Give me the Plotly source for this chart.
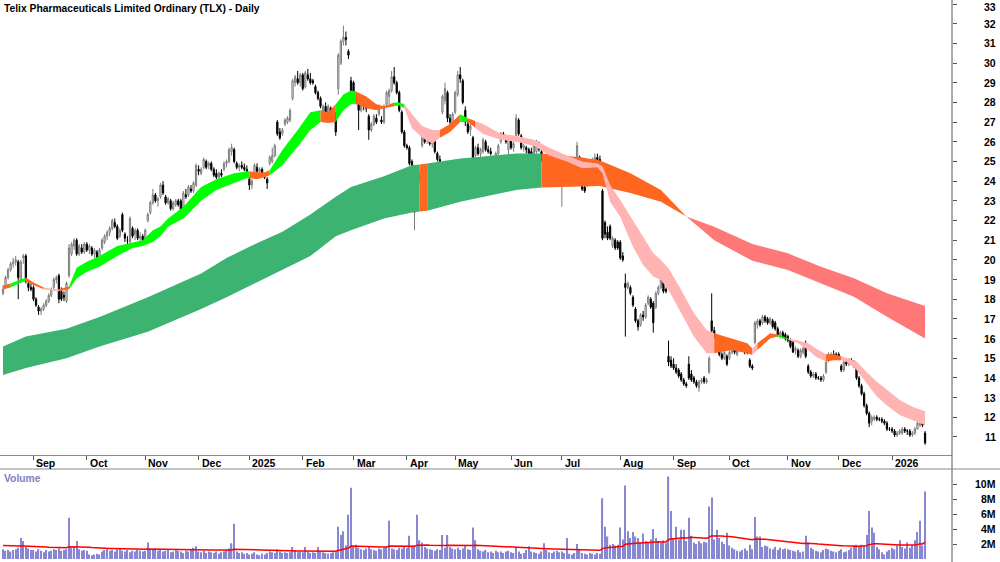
import plotly.graph_objects as go
import pandas as pd

# ---------------- trading calendar (ASX) ----------------
holidays = pd.to_datetime(["2024-12-25", "2024-12-26", "2025-01-01", "2025-01-27", "2025-04-18",
                           "2025-04-21", "2025-04-25", "2025-06-09", "2025-12-25", "2025-12-26",
                           "2026-01-01"])
dates = [d for d in pd.bdate_range("2024-08-15", "2026-01-21") if d not in holidays]

# ---------------- daily OHLC ----------------
opens = [
    18.3,18.6,19.1,19.5,19.8,19.9,19.9,18.9,20.1,20.2,18.8,18.6,
    18.6,18.0,17.6,17.4,17.5,17.7,17.9,18.2,18.6,19.0,19.2,18.4,18.2,17.9,19.2,20.3,20.7,21.0,20.3,20.6,20.4,
    20.8,20.5,20.6,20.3,20.4,20.1,20.6,20.9,21.2,21.4,21.6,21.9,21.7,21.2,22.3,21.3,21.0,20.9,21.6,21.3,21.5,21.1,21.2,
    21.0,22.0,22.4,22.9,23.3,23.0,23.2,23.8,23.2,22.9,23.0,22.6,22.8,23.0,23.0,22.5,23.3,23.3,23.6,23.5,23.8,
    24.6,24.4,24.7,25.0,24.8,24.9,24.6,24.4,24.2,24.4,24.6,24.9,25.0,25.5,25.6,24.9,24.7,24.8,24.7,24.6,
    24.1,23.8,24.5,24.7,24.5,24.6,24.3,24.1,24.9,25.0,25.3,27.0,26.5,26.4,26.9,27.0,27.1,28.2,29.0,29.2,29.0,
    29.4,28.8,29.4,29.2,29.1,28.8,28.5,28.2,27.5,27.8,27.4,27.7,27.2,27.4,28.7,30.0,31.1,31.3,30.6,29.1,
    29.0,28.3,28.0,27.6,28.0,27.8,27.3,26.6,26.9,27.2,27.4,27.1,27.0,27.9,28.3,28.6,29.3,29.0,28.5,27.5,26.5,
    25.8,25.7,25.0,22.4,23.6,24.2,25.8,26.4,26.1,26.3,25.9,26.1,25.4,25.1,27.5,28.1,28.5,27.2,26.9,
    27.5,28.4,29.4,29.1,27.6,26.9,26.6,26.2,25.3,25.7,25.4,25.5,26.0,25.6,25.5,24.8,25.2,25.4,26.0,26.4,26.2,25.6,
    26.2,25.7,26.3,27.1,26.3,25.7,25.7,25.6,25.5,25.4,25.5,25.9,25.5,25.0,24.7,24.7,24.3,24.6,25.2,24.4,
    24.3,24.5,24.3,24.0,23.9,24.0,24.0,25.2,24.0,23.7,23.8,24.2,24.5,25.0,25.2,25.1,23.5,21.9,21.4,21.7,20.7,21.0,20.9,
    20.9,20.2,18.8,18.6,18.6,18.1,17.5,16.9,16.7,17.2,17.1,17.8,18.0,17.8,17.6,18.3,18.6,18.9,18.5,15.1,14.9,
    14.7,14.5,14.4,14.2,13.9,13.7,14.7,14.2,14.0,13.8,13.5,13.8,14.0,13.8,14.3,16.9,16.4,16.1,15.4,15.2,15.0,15.1,
    15.0,15.3,15.4,15.2,15.4,15.5,15.6,15.6,14.9,14.6,15.8,16.7,16.9,16.8,17.1,17.0,16.8,16.9,16.8,16.5,16.2,16.3,16.2,
    16.1,15.9,15.8,15.4,15.4,15.1,15.3,15.7,14.6,14.3,14.1,14.2,14.0,14.0,13.9,14.3,14.9,15.1,15.2,15.2,
    15.2,14.6,14.4,14.8,14.7,14.9,14.8,14.5,14.0,13.6,13.2,12.6,12.2,11.8,11.9,12.0,11.9,11.9,11.8,11.7,11.4,
    11.4,11.3,11.1,11.2,11.2,11.4,11.3,11.3,11.1,11.2,11.4,11.6,11.9,11.2,
]
highs = [
    18.7,19.2,19.6,19.9,20.1,20.2,20.0,20.0,20.3,20.3,18.9,18.8,
    18.7,18.1,17.7,17.6,17.8,18.0,18.3,18.6,19.1,19.2,19.3,18.6,18.4,18.9,20.8,20.9,21.1,21.1,20.8,20.8,20.9,
    20.9,20.8,20.7,20.6,20.5,20.6,21.1,21.3,21.5,21.7,22.1,22.1,21.8,21.6,22.4,21.4,21.2,22.2,21.7,21.6,21.6,21.4,21.3,
    21.6,22.4,23.0,23.6,23.4,23.2,23.9,24.0,23.3,23.2,23.1,23.0,23.1,23.1,23.1,23.5,23.6,23.8,23.8,24.0,24.9,
    24.8,24.7,25.2,25.1,25.0,25.0,24.7,24.6,24.5,24.6,25.0,25.1,25.7,25.9,25.7,25.0,24.9,25.0,24.9,24.8,
    24.2,24.1,24.9,24.9,24.7,24.7,24.4,24.2,25.3,25.7,25.9,27.1,26.7,26.7,27.2,27.3,27.7,29.2,29.4,29.6,29.5,
    29.5,29.6,29.7,29.5,29.2,28.9,28.6,28.3,27.9,28.0,27.9,27.8,27.6,27.5,30.5,31.2,31.9,31.6,30.7,29.3,
    29.1,28.5,28.3,28.1,28.1,28.0,27.4,27.0,27.4,27.4,27.9,27.3,27.9,28.6,28.7,29.6,29.8,29.1,28.6,27.6,26.6,
    25.9,25.8,25.1,23.2,24.6,24.5,26.7,26.7,26.6,26.5,26.3,26.2,25.5,25.3,28.4,29.0,28.6,27.4,27.5,
    28.6,29.6,29.8,29.2,27.8,27.1,26.9,26.3,25.8,25.9,25.7,26.2,26.1,25.8,25.7,25.3,25.5,25.9,26.5,26.5,26.3,26.3,
    26.3,26.0,27.4,27.2,26.4,25.9,25.8,25.7,25.7,25.9,26.1,26.0,25.6,25.1,24.9,24.8,24.7,24.8,25.3,24.6,
    24.7,24.6,24.4,24.2,24.2,24.2,26.0,25.3,24.1,23.9,24.2,24.6,25.2,25.4,25.4,25.3,23.6,22.0,21.7,21.8,21.2,21.1,21.0,
    21.0,20.4,19.3,18.9,18.7,18.2,17.6,17.0,17.3,17.4,17.8,18.2,18.1,17.9,18.4,18.7,19.1,19.0,18.6,15.9,15.1,
    15.0,14.7,14.5,14.3,14.0,13.8,15.1,14.4,14.1,13.9,13.9,14.0,14.1,14.0,15.1,18.3,16.6,16.2,15.5,15.3,15.4,15.2,
    15.4,15.6,15.6,15.6,15.7,15.7,15.7,15.7,15.0,14.7,16.9,17.0,17.0,17.2,17.2,17.1,17.1,17.0,16.9,16.6,16.4,16.4,16.3,
    16.2,16.0,15.9,15.6,15.5,15.5,15.6,15.9,14.7,14.4,14.3,14.3,14.1,14.1,14.2,14.9,15.3,15.3,15.4,15.3,
    15.3,14.7,14.9,15.0,15.0,15.0,14.9,14.6,14.1,13.7,13.3,12.7,12.3,12.1,12.1,12.1,12.0,12.0,11.9,11.8,11.5,
    11.5,11.4,11.3,11.4,11.5,11.5,11.4,11.4,11.3,11.5,11.8,11.9,12.0,11.3,
]
lows = [
    18.2,18.5,19.0,19.4,19.6,19.7,18.0,18.8,19.8,18.8,18.4,18.4,
    17.9,17.6,17.2,17.2,17.4,17.6,17.8,18.1,18.5,18.8,17.8,17.9,17.9,17.8,19.1,20.2,20.5,20.2,20.2,20.3,20.3,
    20.4,20.3,20.2,20.1,19.9,20.0,20.5,20.8,21.0,21.2,21.5,21.6,21.0,21.1,21.4,20.9,20.7,20.8,21.1,21.0,21.0,20.9,20.9,
    20.9,21.9,22.3,22.8,22.9,22.7,23.1,23.3,22.8,22.8,22.5,22.5,22.7,22.7,22.1,22.4,23.1,23.2,23.4,23.4,23.7,
    24.3,24.3,24.6,24.6,24.6,24.5,24.2,24.1,24.0,24.2,24.5,24.7,24.9,25.3,24.9,24.6,24.5,24.6,24.5,24.4,
    23.55,23.6,24.4,24.4,24.3,24.2,24.1,23.6,24.8,24.9,25.2,26.3,26.1,26.3,26.8,26.9,27.0,28.1,28.8,28.9,28.8,
    28.6,28.7,29.1,28.9,28.9,28.4,28.1,27.7,27.3,27.3,27.2,27.1,27.0,26.3,28.4,29.9,30.9,30.9,30.2,28.4,
    28.0,27.9,26.6,27.5,27.6,27.5,26.1,26.5,26.8,26.9,27.3,26.9,26.9,27.8,27.9,28.5,28.9,28.4,27.5,26.4,25.7,
    25.6,24.8,23.6,21.5,23.5,23.9,25.7,25.9,25.9,25.8,25.7,25.4,25.0,24.9,27.4,27.9,27.0,26.8,26.7,
    27.4,28.3,29.0,27.9,26.8,26.4,26.3,24.2,25.2,25.3,25.2,25.4,25.5,25.4,25.3,24.7,25.1,25.3,25.9,26.1,25.9,25.1,
    25.6,25.5,26.2,26.3,25.6,25.5,25.4,25.3,24.4,25.3,25.4,25.5,25.0,24.6,24.5,24.1,24.2,24.4,24.1,24.2,
    22.7,24.1,23.9,23.8,23.8,23.9,23.9,24.0,23.5,23.4,23.7,24.1,24.4,24.9,25.0,24.9,21.0,21.1,21.0,21.0,20.6,20.5,20.5,
    20.0,19.9,16.1,18.5,18.2,17.6,16.8,16.4,16.6,16.9,17.0,17.7,17.5,16.3,17.5,18.2,18.5,18.3,18.3,14.6,14.5,
    14.4,14.2,14.0,13.8,13.6,13.5,13.9,13.8,13.7,13.5,13.3,13.7,13.7,13.7,14.2,16.3,16.0,15.5,15.1,14.9,14.9,14.6,
    14.9,15.2,15.2,15.1,15.3,15.4,15.2,15.2,14.5,14.4,15.7,16.5,16.6,16.7,16.8,16.7,16.7,16.5,16.4,16.1,16.0,16.0,15.9,
    15.8,15.5,15.3,15.2,15.0,15.0,15.2,15.0,14.2,14.0,14.0,13.9,13.9,13.8,13.8,14.2,14.8,15.0,15.0,15.0,
    14.9,14.3,14.3,14.6,14.6,14.7,14.5,13.9,13.5,13.1,12.5,12.1,11.5,11.6,11.8,11.8,11.8,11.7,11.6,11.3,11.3,
    11.2,11.0,11.0,11.1,11.1,11.2,11.1,11.0,11.0,11.1,11.4,11.5,11.5,10.6,
]
closes = [
    18.5,19.1,19.5,19.8,19.9,20.0,19.1,19.9,20.2,18.9,18.6,18.5,
    18.0,17.7,17.4,17.5,17.7,17.9,18.2,18.5,19.0,19.1,18.0,18.0,18.1,18.8,20.6,20.8,21.0,20.3,20.7,20.4,20.8,
    20.5,20.7,20.3,20.5,20.1,20.5,21.0,21.2,21.4,21.6,22.0,21.7,21.1,21.5,21.5,21.1,21.0,22.1,21.2,21.5,21.1,21.2,21.0,
    21.5,22.3,22.9,23.3,23.0,23.1,23.8,23.4,22.9,23.1,22.6,22.9,23.0,22.8,22.3,23.4,23.2,23.7,23.5,23.9,24.8,
    24.5,24.6,25.1,24.7,24.9,24.6,24.3,24.2,24.4,24.3,24.9,25.0,25.6,25.7,25.0,24.7,24.8,24.7,24.6,24.5,
    23.8,24.0,24.8,24.5,24.6,24.3,24.2,23.9,25.2,25.3,25.8,26.4,26.2,26.6,27.1,27.2,27.6,29.1,29.3,29.0,29.4,
    28.7,29.5,29.2,29.0,29.0,28.5,28.2,27.8,27.8,27.4,27.8,27.2,27.5,26.5,30.4,31.1,31.3,31.2,30.4,28.5,
    28.1,28.0,27.6,28.0,27.8,27.7,26.6,26.9,27.3,27.0,27.8,27.0,27.8,28.5,28.6,29.3,29.0,28.5,27.6,26.5,25.8,
    25.7,24.9,23.7,23.1,24.4,24.3,26.5,26.0,26.5,25.9,26.2,25.5,25.1,25.0,28.3,28.7,27.2,27.0,27.4,
    28.5,29.4,29.2,28.0,27.0,26.5,26.8,24.6,25.7,25.4,25.6,26.1,25.6,25.5,25.4,25.2,25.4,25.8,26.4,26.2,26.0,26.2,
    25.7,25.9,27.2,26.4,25.7,25.8,25.6,25.4,24.6,25.8,26.0,25.6,25.1,24.7,24.8,24.2,24.6,24.5,24.3,24.5,
    24.6,24.2,24.0,23.9,24.1,24.1,25.8,24.1,23.6,23.5,24.1,24.5,25.1,25.2,25.1,25.0,21.1,21.3,21.1,21.1,21.1,20.6,20.6,
    20.1,20.0,18.6,18.8,18.3,17.7,16.9,16.6,17.2,17.1,17.7,18.1,17.6,16.8,18.3,18.6,19.0,18.4,18.4,14.8,14.6,
    14.5,14.3,14.1,13.9,13.7,13.6,14.0,13.9,13.8,13.6,13.8,13.9,13.8,13.9,15.0,16.4,16.1,15.6,15.2,15.0,15.3,14.7,
    15.3,15.5,15.3,15.5,15.6,15.6,15.3,15.3,14.6,14.5,16.8,16.9,16.7,17.1,16.9,16.8,17.0,16.6,16.5,16.2,16.3,16.1,16.0,
    15.9,15.6,15.3,15.5,15.1,15.4,15.5,15.1,14.3,14.1,14.2,14.0,14.0,13.9,14.1,14.8,15.2,15.2,15.1,15.1,
    15.0,14.4,14.8,14.7,14.9,14.8,14.6,14.0,13.6,13.2,12.6,12.2,11.7,12.0,12.0,11.9,11.9,11.8,11.7,11.4,11.4,
    11.3,11.1,11.2,11.3,11.4,11.3,11.3,11.1,11.2,11.4,11.7,11.8,11.6,10.7,
]
# daily volume, millions of shares
volume_m = [
    1.3,1.1,1.2,1.0,1.2,1.3,1.5,2.8,2.4,1.6,1.4,1.2,
    1.2,1.0,1.3,1.1,0.9,1.2,1.0,1.1,1.3,1.2,1.4,1.1,1.2,1.3,5.5,1.5,1.6,2.4,1.3,1.1,1.2,
    1.1,0.6,0.5,0.6,0.7,0.6,1.0,1.2,1.3,1.1,1.2,1.0,1.3,1.4,1.1,1.0,1.2,0.9,1.1,1.0,1.2,1.1,1.0,
    1.1,2.2,1.3,1.2,1.4,1.1,1.2,1.0,1.1,1.3,0.9,1.0,1.2,1.1,1.0,0.8,1.1,1.0,1.2,1.5,1.7,
    1.0,0.9,1.1,0.8,1.0,0.9,0.8,1.0,0.7,0.9,1.0,1.2,1.4,2.1,4.7,1.0,0.8,0.9,0.7,0.8,
    0.6,0.7,0.9,0.6,0.5,0.7,0.6,0.8,1.0,0.9,0.8,1.3,1.0,0.8,0.9,0.8,0.9,1.6,1.2,0.9,1.0,
    0.9,1.6,1.0,0.8,0.9,0.8,1.6,1.1,0.9,0.8,0.7,0.8,0.9,1.0,4.3,3.2,3.7,1.8,5.9,9.5,
    1.7,1.9,1.5,1.3,1.2,1.4,1.6,1.3,1.2,1.1,1.4,1.3,1.5,1.6,5.1,1.4,1.3,1.2,1.5,1.4,1.6,
    1.5,3.1,1.6,1.8,5.9,2.5,2.2,1.6,1.4,1.3,1.2,1.1,1.3,1.2,3.2,1.5,3.2,1.6,1.4,
    1.3,1.5,1.2,1.4,1.8,1.3,1.2,4.2,2.5,1.3,1.1,1.0,1.2,0.9,1.0,0.8,1.1,0.9,1.0,0.8,1.0,1.1,
    0.9,0.8,1.6,1.0,0.7,0.8,1.2,1.7,1.0,0.9,0.8,0.7,1.0,2.1,1.2,0.9,0.8,1.0,1.1,0.9,
    1.0,0.8,2.8,0.7,0.6,0.8,2.0,1.2,0.8,0.7,0.6,0.8,0.7,0.6,0.8,0.7,8.1,4.3,3.0,1.9,2.0,1.8,1.9,
    4.2,2.6,9.8,3.7,2.8,3.6,3.0,2.8,2.2,3.4,2.4,2.2,2.6,4.0,2.8,2.3,2.2,2.5,2.1,11.0,6.4,
    2.8,4.3,2.6,3.9,3.9,2.4,5.5,3.1,2.2,2.0,2.4,2.1,2.3,2.2,7.0,8.2,2.6,3.9,2.8,2.3,2.0,3.5,
    1.8,1.5,1.3,1.1,1.0,1.2,1.4,1.1,1.9,1.3,5.6,3.0,3.0,1.6,1.8,1.7,1.4,1.3,1.6,1.2,1.5,1.3,1.4,
    1.3,1.2,1.1,1.0,1.2,0.9,1.0,3.1,2.2,1.5,1.3,1.1,1.0,0.9,1.2,1.4,1.3,1.1,1.0,0.9,
    1.1,1.3,0.9,1.0,1.2,1.5,1.8,1.9,1.7,1.9,1.8,3.2,6.4,4.2,3.5,1.6,1.3,0.9,0.6,1.0,1.2,
    1.5,1.3,1.8,2.5,1.6,1.4,2.2,1.5,1.9,2.5,3.6,5.1,1.8,9.0,
]

short_idx = [0,3,7,9,12,16,20,22,26,29,33,38,45,51,55,59,62,65,71,78,84,91,96,97,100,103,105,110,116,121,
             125,128,131,134,137,139,143,147,150,154,156,158,161,165,169,172,176,180,183,186,189,196,202,209,
             215,222,228,234,236,239,243,248,252,256,259,262,267,272,277,280,287,293,295,297,302,305,309,313,
             317,320,324,327,330,332,336,340,344,348,353,358,363]
short_upper = [18.7,18.8,19.0,19.1,18.85,18.6,18.5,18.5,18.65,19.6,19.9,20.2,20.7,20.9,21.0,21.5,21.7,22.1,22.7,
               23.7,24.1,24.4,24.5,24.5,24.45,24.45,24.55,25.58,26.6,27.5,27.6,27.5,27.9,28.4,28.6,28.55,28.3,
               27.9,27.8,28.0,28.0,27.9,27.4,26.8,26.6,26.6,26.9,27.4,27.2,27.05,26.9,26.4,26.3,26.1,25.7,25.3,
               25.0,24.9,24.75,23.8,23.04,22.0,21.18,20.33,19.99,19.57,18.47,17.28,16.44,16.27,16.0,15.76,15.5,
               15.76,16.27,16.2,16.0,15.9,15.76,15.5,15.2,15.2,15.1,15.0,14.83,14.3,13.8,13.4,12.88,12.54,12.3]
short_lower = [18.5,18.6,18.85,18.9,18.72,18.5,18.42,18.4,18.5,19.05,19.4,19.65,20.2,20.6,20.7,20.9,21.2,21.7,
               22.1,23.0,23.55,23.9,24.15,24.15,24.1,24.2,24.3,24.8,25.75,26.6,27.0,26.95,27.0,27.6,27.9,27.95,
               27.7,27.6,27.7,27.8,27.85,27.7,26.7,26.2,25.9,26.2,26.5,27.0,27.0,26.7,26.4,26.1,26.0,25.8,25.3,
               25.0,24.65,24.7,24.4,22.95,22.19,20.67,19.74,19.15,18.98,18.47,17.28,16.1,15.25,15.25,15.42,
               15.25,15.17,15.42,16.0,16.1,15.95,15.76,15.42,15.08,14.83,14.9,14.9,14.83,14.4,13.73,13.05,12.6,
               12.12,11.86,11.6]
short_trend = ["mixed","up","up","mixed","mixed","down","down","mixed","up","up","up","up","up","up","up",
               "up","up","up","up","up","up","up","up","mixed","mixed","mixed","up","up","up","up","mixed",
               "mixed","up","up","up","mixed","mixed","mixed","mixed","up","up","down","down","down","down",
               "mixed","mixed","up","mixed","down","down","down","down","down","down","down","down","down",
               "down","down","down","down","down","down","down","down","down","down","down","mixed","mixed",
               "mixed","down","mixed","mixed","up","down","down","down","down","mixed","mixed","down","down",
               "down","down","down","down","down","down","down"]

long_idx = [0,9,25,38,57,78,88,97,110,121,131,137,150,161,164,167,180,189,202,212,228,235,247,259,269,
            280,295,309,322,335,348,363]
long_upper = [15.59,16.1,16.5,17.1,18.1,19.3,20.09,20.67,21.43,22.3,23.2,23.7,24.25,24.8,24.85,24.9,25.15,
              25.25,25.4,25.4,25.2,25.05,24.4,23.55,22.2,21.68,20.8,20.33,19.65,19.06,18.3,17.65]
long_lower = [14.15,14.5,15.0,15.6,16.35,17.5,18.1,18.64,19.5,20.2,21.2,21.5,22.1,22.4,22.45,22.5,22.95,
              23.2,23.55,23.68,23.72,23.75,23.4,22.95,22.2,21.0,19.95,19.48,18.81,18.13,17.11,16.0]
long_trend = ["up","up","up","up","up","up","up","up","up","up","up","up","up","up","mixed","up","up","up",
              "up","mixed","mixed","mixed","mixed","mixed","down","down","down","down","down","down","down","down"]

price_ticks = list(range(11, 34))
volume_ticks_m = [2, 4, 6, 8, 10]

# ---------------- build ----------------
n = min(len(dates), len(opens), len(highs), len(lows), len(closes), len(volume_m))
xi = list(range(n))
vol = [v * 1e6 for v in volume_m[:n]]

# volume moving average (EMA)
span = 60
alpha = 2.0 / (span + 1)
ma = []
cur = 1.8e6
for v in vol:
    cur = cur + alpha * (v - cur)
    ma.append(cur)

SHORT_COL = {"up": "#00ff00", "mixed": "#ff661f", "down": "#ffb3b3"}
LONG_COL = {"up": "#3cb371", "mixed": "#ff661f", "down": "#ff7878"}


def ribbon(sidx, up, lo, state, cols):
    out = []
    m = len(sidx)
    k = 0
    while k < m - 1:
        s = state[k]
        j = k
        while j + 1 < m - 1 and state[j + 1] == s:
            j += 1
        xs = sidx[k:j + 2] + sidx[k:j + 2][::-1] + [sidx[k]]
        ys = up[k:j + 2] + lo[k:j + 2][::-1] + [up[k]]
        out.append(go.Scatter(x=xs, y=ys, mode="lines", fill="toself", fillcolor=cols[s],
                              line=dict(width=0), hoverinfo="skip", showlegend=False,
                              xaxis="x", yaxis="y"))
        k = j + 1
    return out


fig = go.Figure()
for t in ribbon(long_idx, long_upper, long_lower, long_trend, LONG_COL):
    fig.add_trace(t)
for t in ribbon(short_idx, short_upper, short_lower, short_trend, SHORT_COL):
    fig.add_trace(t)

fig.add_trace(go.Candlestick(
    x=xi, open=opens[:n], high=highs[:n], low=lows[:n], close=closes[:n],
    increasing=dict(line=dict(color="#7a7a7a", width=1), fillcolor="white"),
    decreasing=dict(line=dict(color="black", width=1), fillcolor="black"),
    whiskerwidth=0, showlegend=False, xaxis="x", yaxis="y"))

fig.add_trace(go.Bar(x=xi, y=vol, marker=dict(color="#8888d2", line=dict(width=0)), width=0.5,
                     showlegend=False, xaxis="x2", yaxis="y2"))
fig.add_trace(go.Scatter(x=xi, y=ma, mode="lines", line=dict(color="#ff0000", width=1.5),
                         showlegend=False, xaxis="x2", yaxis="y2"))

# month boundaries
month_idx, month_lbl = [], []
prev = (dates[0].year, dates[0].month)
for i, d in enumerate(dates[:n]):
    key = (d.year, d.month)
    if key != prev:
        month_idx.append(i)
        month_lbl.append(str(d.year) if d.month == 1 else d.strftime("%b"))
        prev = key

W, H = 1000, 562
X_RIGHT = 952 / W
P_BOTTOM = 1 - 455 / H
V_TOP = 1 - 469 / H
xr = [-1.18, 373.6]
FONT = "Liberation Sans"
P_RANGE = [10.083, 33.203]

fig.update_layout(
    width=W, height=H, margin=dict(l=0, r=0, t=0, b=0),
    paper_bgcolor="white", plot_bgcolor="white", showlegend=False, hovermode=False,
    font=dict(family=FONT, size=11, color="black"),
    xaxis=dict(domain=[0, X_RIGHT], range=xr, anchor="y", showgrid=False, zeroline=False,
               showline=True, linecolor="#8a8a8a", linewidth=1,
               tickvals=month_idx, ticks="outside", ticklen=4, tickcolor="#555",
               showticklabels=False, rangeslider=dict(visible=False)),
    yaxis=dict(domain=[P_BOTTOM, 1], range=P_RANGE, side="right", anchor="x",
               showgrid=False, zeroline=False, showline=False,
               tickvals=price_ticks, ticks="outside", ticklen=4, tickcolor="#555",
               showticklabels=False),
    xaxis2=dict(domain=[0, X_RIGHT], range=xr, anchor="y2", showgrid=False, zeroline=False,
                showline=False, showticklabels=False, ticks=""),
    yaxis2=dict(domain=[0, V_TOP], range=[-0.4e6, 12e6], side="right", anchor="x2",
                showgrid=False, zeroline=False, showline=False,
                tickvals=[v * 1e6 for v in volume_ticks_m], ticks="outside", ticklen=4,
                tickcolor="#555", showticklabels=False),
)

shapes = [
    dict(type="line", xref="paper", yref="paper", x0=X_RIGHT, x1=X_RIGHT, y0=0, y1=1,
         line=dict(color="#555", width=1)),
    dict(type="line", xref="paper", yref="paper", x0=0, x1=1, y0=V_TOP, y1=V_TOP,
         line=dict(color="#8a8a8a", width=1)),
]
fig.update_layout(shapes=shapes)

LBL = dict(family=FONT, size=10.5, color="black", weight="bold")
ann = [dict(text="Telix Pharmaceuticals Limited Ordinary (TLX) - Daily", xref="paper", yref="paper",
            x=0.002, y=1, xanchor="left", yanchor="top", yshift=-1, showarrow=False,
            font=dict(family=FONT, size=10.3, color="black", weight="bold")),
       dict(text="Volume", xref="paper", yref="paper", x=0.002, y=1 - 471 / H, xanchor="left",
            yanchor="top", showarrow=False,
            font=dict(family=FONT, size=10.3, color="#8080c0", weight="bold"))]
for mi, ml in zip(month_idx, month_lbl):
    ann.append(dict(text=ml, x=mi, xref="x", y=1 - 462.5 / H, yref="paper", xanchor="left",
                    yanchor="middle", xshift=1, showarrow=False, font=LBL))
# price axis labels, right-aligned at the chart edge (top one kept inside the page)
for p in price_ticks:
    if p == price_ticks[-1]:
        ann.append(dict(text=str(p), x=0.998, xref="paper", y=1, yref="paper", xanchor="right",
                        yanchor="top", yshift=1, showarrow=False, font=LBL))
    else:
        ann.append(dict(text=str(p), x=0.998, xref="paper", y=p, yref="y", xanchor="right",
                        yanchor="middle", showarrow=False, font=LBL))
for v in volume_ticks_m:
    ann.append(dict(text=f"{v}M", x=0.998, xref="paper", y=v * 1e6, yref="y2", xanchor="right",
                    yanchor="middle", showarrow=False, font=LBL))
fig.update_layout(annotations=ann)

fig.write_html("out.html")
